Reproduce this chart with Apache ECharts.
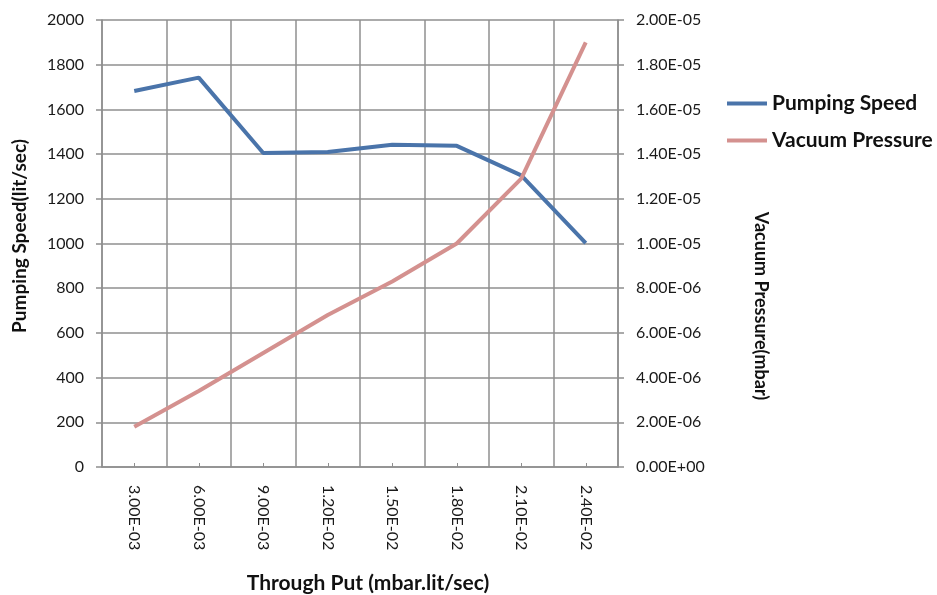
<!DOCTYPE html>
<html>
<head>
<meta charset="utf-8">
<script src="https://cdn.jsdelivr.net/npm/echarts@6/dist/echarts.min.js"></script>
<style>
  html, body { margin: 0; padding: 0; background: #fff; }
  #chart { width: 937px; height: 595px; }
</style>
</head>
<body>
<div id="chart"></div>
<script>
// Throughput categories (mbar.lit/sec)
const throughPut = ['3.00E-03', '6.00E-03', '9.00E-03', '1.20E-02', '1.50E-02', '1.80E-02', '2.10E-02', '2.40E-02'];
// Pumping speed (lit/sec), left axis
const pumpingSpeed = [1682, 1742, 1405, 1409, 1442, 1437, 1305, 1002];
// Vacuum pressure (mbar), right axis
const vacuumPressure = [1.8e-6, 3.4e-6, 5.1e-6, 6.8e-6, 8.3e-6, 1.0e-5, 1.29e-5, 1.9e-5];

const FONT = 'Lato, "Noto Sans", sans-serif';
const GRID_COLOR = '#8f8f8f';
const TEXT = '#1a1a1a';
const BLUE = '#4a74aa';
const PINK = '#d4918f';

// Scientific notation in the style "1.80E-05"
function sci(v) {
  if (v === 0) return '0.00E+00';
  const e = Math.floor(Math.log10(v) + 1e-9);
  const m = v / Math.pow(10, e);
  const es = (e < 0 ? '-' : '+') + String(Math.abs(e)).padStart(2, '0');
  return m.toFixed(2) + 'E' + es;
}

const chart = echarts.init(document.getElementById('chart'), null, { renderer: 'canvas' });

chart.setOption({
  backgroundColor: '#ffffff',
  animation: false,
  grid: { left: 102, right: 319, top: 20, bottom: 128 },
  legend: {
    orient: 'vertical',
    left: 722,
    top: 88,
    itemGap: 16,
    itemWidth: 40,
    itemHeight: 4,
    icon: 'rect',
    textStyle: { fontFamily: FONT, fontSize: 21, fontWeight: 'bold', color: '#111' },
    data: [
      { name: 'Pumping Speed', itemStyle: { color: BLUE } },
      { name: 'Vacuum Pressure', itemStyle: { color: PINK } }
    ]
  },
  xAxis: {
    type: 'category',
    data: throughPut,
    boundaryGap: true,
    axisLine: { show: true, lineStyle: { color: GRID_COLOR, width: 1.5 } },
    axisTick: { show: true, inside: true, alignWithLabel: true, length: 4, lineStyle: { color: GRID_COLOR, width: 1 } },
    splitLine: { show: true, lineStyle: { color: GRID_COLOR, width: 1.5 } },
    axisLabel: { rotate: -90, margin: 18, fontFamily: FONT, fontSize: 16, color: TEXT }
  },
  yAxis: [
    {
      type: 'value',
      min: 0, max: 2000, interval: 200,
      axisLine: { show: true, lineStyle: { color: GRID_COLOR, width: 1.5 } },
      axisTick: { show: true, length: 6, lineStyle: { color: GRID_COLOR, width: 1.5 } },
      splitLine: { show: true, lineStyle: { color: GRID_COLOR, width: 1.5 } },
      axisLabel: { margin: 18, fontFamily: FONT, fontSize: 16, color: TEXT, formatter: v => String(v) }
    },
    {
      type: 'value',
      min: 0, max: 2e-5, interval: 2e-6,
      position: 'right',
      axisLine: { show: true, lineStyle: { color: GRID_COLOR, width: 1.5 } },
      axisTick: { show: true, length: 6, lineStyle: { color: GRID_COLOR, width: 1.5 } },
      splitLine: { show: false },
      axisLabel: { margin: 18, fontFamily: FONT, fontSize: 16, color: TEXT, formatter: sci }
    }
  ],
  graphic: [
    {
      type: 'text',
      x: 20, y: 236, rotation: Math.PI / 2,
      style: { text: 'Pumping Speed(lit/sec)', font: 'bold 19px ' + FONT, fill: '#111', align: 'center', verticalAlign: 'middle' }
    },
    {
      type: 'text',
      x: 761, y: 306, rotation: -Math.PI / 2,
      style: { text: 'Vacuum Pressure(mbar)', font: 'bold 18px ' + FONT, fill: '#111', align: 'center', verticalAlign: 'middle' }
    },
    {
      type: 'text',
      x: 368, y: 583,
      style: { text: 'Through Put (mbar.lit/sec)', font: 'bold 21px ' + FONT, fill: '#111', align: 'center', verticalAlign: 'middle' }
    }
  ],
  series: [
    {
      name: 'Pumping Speed',
      type: 'line',
      yAxisIndex: 0,
      data: pumpingSpeed,
      symbol: 'none',
      lineStyle: { color: BLUE, width: 4 },
      itemStyle: { color: BLUE }
    },
    {
      name: 'Vacuum Pressure',
      type: 'line',
      yAxisIndex: 1,
      data: vacuumPressure,
      symbol: 'none',
      lineStyle: { color: PINK, width: 4 },
      itemStyle: { color: PINK }
    }
  ]
});
</script>
</body>
</html>
